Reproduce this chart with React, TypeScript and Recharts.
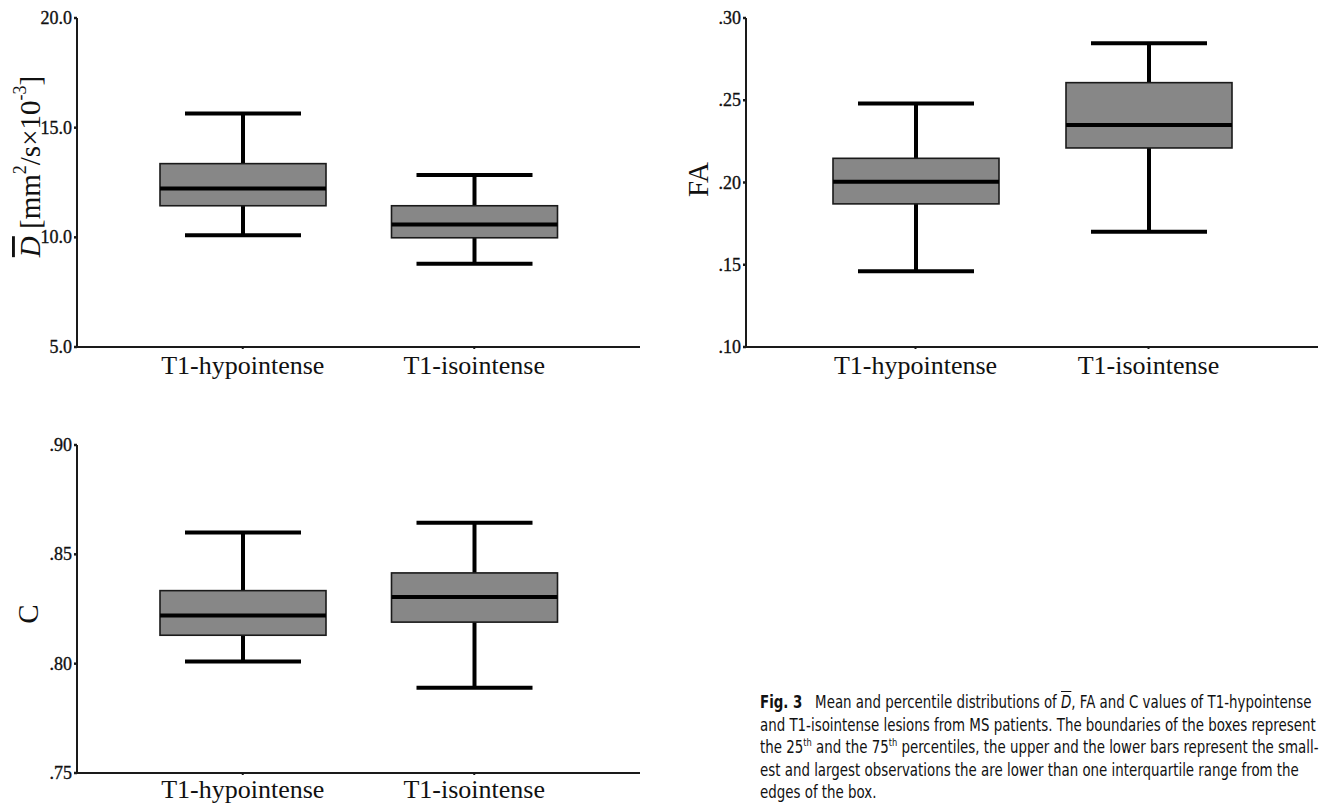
import React from 'react';
import { ComposedChart, Bar, XAxis, YAxis } from 'recharts';

const categories = ['T1-hypointense', 'T1-isointense'];

// mean diffusivity
const dMin = [10.09, 8.8];
const dQ1 = [11.44, 9.98];
const dMed = [12.23, 10.58];
const dQ3 = [13.36, 11.44];
const dMax = [15.65, 12.84];
const dTicks = [5, 10, 15, 20];

// fractional anisotropy
const faMin = [0.146, 0.17];
const faQ1 = [0.187, 0.221];
const faMed = [0.2005, 0.235];
const faQ3 = [0.2147, 0.2607];
const faMax = [0.248, 0.2846];
const faTicks = [0.1, 0.15, 0.2, 0.25, 0.3];

// C
const cMin = [0.801, 0.789];
const cQ1 = [0.813, 0.819];
const cMed = [0.822, 0.8305];
const cQ3 = [0.8334, 0.8415];
const cMax = [0.86, 0.8645];
const cTicks = [0.75, 0.8, 0.85, 0.9];

const SERIF = '"Liberation Serif", "DejaVu Serif", serif';
const CAPTION_FONT = '"Liberation Sans Narrow", "DejaVu Sans Condensed", "Open Sans", sans-serif';

const buildRows = (mn: number[], q1: number[], md: number[], q3: number[], mx: number[]) =>
  categories.map((name, i) => ({
    name,
    range: [mn[i], mx[i]],
    min: mn[i],
    q1: q1[i],
    med: md[i],
    q3: q3[i],
    max: mx[i],
  }));

const BoxShape = (props: any) => {
  const { x, y, width, height, payload } = props;
  const top = Math.min(y, y + height);
  const h = Math.abs(height);
  const py = (v: number) => top + ((payload.max - v) / (payload.max - payload.min)) * h;
  const cx = x + width / 2;
  const cap = 116;
  return (
    <g>
      <line x1={cx} x2={cx} y1={py(payload.max)} y2={py(payload.q3)} stroke="#000" strokeWidth={4} />
      <line x1={cx} x2={cx} y1={py(payload.q1)} y2={py(payload.min)} stroke="#000" strokeWidth={4} />
      <line x1={cx - cap / 2} x2={cx + cap / 2} y1={py(payload.max)} y2={py(payload.max)} stroke="#000" strokeWidth={4} />
      <line x1={cx - cap / 2} x2={cx + cap / 2} y1={py(payload.min)} y2={py(payload.min)} stroke="#000" strokeWidth={4} />
      <rect
        x={x}
        y={py(payload.q3)}
        width={width}
        height={py(payload.q1) - py(payload.q3)}
        fill="#878787"
        stroke="#1a1a1a"
        strokeWidth={1.6}
      />
      <line x1={x} x2={x + width} y1={py(payload.med)} y2={py(payload.med)} stroke="#000" strokeWidth={4} />
    </g>
  );
};

const YTitle = (props: any) => {
  const { viewBox, cx, shift = 0, children } = props;
  const vb = viewBox || { y: 0, height: 0 };
  const cy = vb.y + vb.height / 2 + shift;
  return (
    <text
      x={cx}
      y={cy}
      transform={`rotate(-90, ${cx}, ${cy})`}
      textAnchor="middle"
      dominantBaseline="central"
      fontFamily={SERIF}
      fontSize={29}
      fill="#111"
    >
      {children}
    </text>
  );
};

const YTick = (props: any) => {
  const { x, y, payload, fmt } = props;
  return (
    <text
      x={x}
      y={y}
      textAnchor="end"
      dominantBaseline="central"
      fontFamily={SERIF}
      fontSize={18}
      fill="#111"
      stroke="#111"
      strokeWidth={0.35}
    >
      {fmt(payload.value)}
    </text>
  );
};

const decimals1 = (v: number) => v.toFixed(1);
const noLeadingZero = (v: number) => v.toFixed(2).replace(/^0/, '');

type PanelProps = {
  rows: any[];
  ticks: number[];
  fmt: (v: number) => string;
  width: number;
  height: number;
  top: number;
  right: number;
  yAxisWidth: number;
  xAxisHeight: number;
  pad: number;
  labelGap: number;
  title: React.ReactElement;
};

const Panel = ({ rows, ticks, fmt, width, height, top, right, yAxisWidth, xAxisHeight, pad, labelGap, title }: PanelProps) => {
  const domain = [ticks[0], ticks[ticks.length - 1]];
  return (
    <ComposedChart width={width} height={height} data={rows} margin={{ top, right, bottom: 0, left: 0 }}>
      <XAxis
        dataKey="name"
        padding={{ left: pad, right: pad }}
        height={xAxisHeight}
        axisLine={{ stroke: '#1a1a1a', strokeWidth: 2 }}
        tickLine={{ stroke: '#1a1a1a', strokeWidth: 2 }}
        tickSize={2}
        tickMargin={labelGap}
        tick={{ fill: '#111', fontSize: 26, fontFamily: SERIF }}
      />
      <XAxis
        xAxisId="top"
        dataKey="name"
        orientation="top"
        height={0}
        tick={false}
        tickLine={false}
        axisLine={{ stroke: '#333', strokeWidth: 1.8 }}
      />
      <YAxis
        type="number"
        domain={domain}
        ticks={ticks}
        width={yAxisWidth}
        axisLine={{ stroke: '#1a1a1a', strokeWidth: 2 }}
        tickLine={{ stroke: '#1a1a1a', strokeWidth: 2.5 }}
        tickSize={3}
        tickMargin={2}
        tick={<YTick fmt={fmt} />}
        label={title}
      />
      <YAxis
        yAxisId="right"
        orientation="right"
        type="number"
        domain={domain}
        width={0}
        tick={false}
        tickLine={false}
        axisLine={{ stroke: '#555', strokeWidth: 1.5 }}
      />
      <Bar dataKey="range" barSize={166} shape={<BoxShape />} isAnimationActive={false} />
    </ComposedChart>
  );
};

const sup: React.CSSProperties = { fontSize: '0.62em', verticalAlign: 'super', lineHeight: 0 };

export default function App() {
  return (
    <div
      style={{
        position: 'fixed',
        left: 0,
        top: 0,
        width: 1319,
        height: 804,
        overflow: 'hidden',
        background: '#fff',
      }}
    >
      <div style={{ position: 'absolute', left: 0, top: 0 }}>
        <Panel
          rows={buildRows(dMin, dQ1, dMed, dQ3, dMax)}
          ticks={dTicks}
          fmt={decimals1}
          width={660}
          height={400}
          top={18}
          right={20}
          yAxisWidth={77}
          xAxisHeight={53}
          pad={50}
          labelGap={7}
          title={
            <YTitle cx={30} shift={-16}>
              <tspan fontStyle="italic" textDecoration="overline">D</tspan>
              <tspan> [mm</tspan>
              <tspan baselineShift="super" fontSize={18}>2</tspan>
              <tspan>/s×10</tspan>
              <tspan baselineShift="super" fontSize={18}>-3</tspan>
              <tspan>]</tspan>
            </YTitle>
          }
        />
      </div>
      <div style={{ position: 'absolute', left: 660, top: 0 }}>
        <Panel
          rows={buildRows(faMin, faQ1, faMed, faQ3, faMax)}
          ticks={faTicks}
          fmt={noLeadingZero}
          width={659}
          height={400}
          top={18}
          right={1}
          yAxisWidth={86}
          xAxisHeight={53}
          pad={53}
          labelGap={7}
          title={<YTitle cx={38} shift={-3}>FA</YTitle>}
        />
      </div>
      <div style={{ position: 'absolute', left: 0, top: 420 }}>
        <Panel
          rows={buildRows(cMin, cQ1, cMed, cQ3, cMax)}
          ticks={cTicks}
          fmt={noLeadingZero}
          width={660}
          height={384}
          top={25}
          right={20}
          yAxisWidth={77}
          xAxisHeight={31}
          pad={50}
          labelGap={5}
          title={<YTitle cx={28} shift={5}>C</YTitle>}
        />
      </div>
      <div
        style={{
          position: 'absolute',
          left: 760,
          top: 691,
          fontFamily: CAPTION_FONT,
          fontSize: 17.5,
          lineHeight: '22.5px',
          color: '#111',
          whiteSpace: 'nowrap',
          transform: 'scaleX(0.85)',
          transformOrigin: 'left top',
        }}
      >
        <div>
          <b>Fig. 3</b>&nbsp;&nbsp; Mean and percentile distributions of{' '}
          <span style={{ fontStyle: 'italic', textDecoration: 'overline' }}>D</span>, FA and C values of T1-hypointense
        </div>
        <div>and T1-isointense lesions from MS patients. The boundaries of the boxes represent</div>
        <div>
          the 25<span style={sup}>th</span> and the 75<span style={sup}>th</span> percentiles, the upper and the lower
          bars represent the small-
        </div>
        <div>est and largest observations the are lower than one interquartile range from the</div>
        <div>edges of the box.</div>
      </div>
    </div>
  );
}
